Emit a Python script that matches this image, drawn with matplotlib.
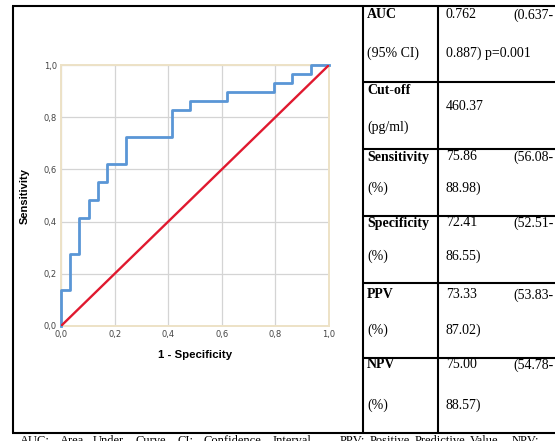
import matplotlib
matplotlib.use("Agg")
import matplotlib.pyplot as plt

# ROC curve (1 - specificity, sensitivity)
fpr = [0.0, 0.0, 0.034, 0.034, 0.069, 0.069, 0.103, 0.103, 0.138, 0.138, 0.172, 0.172,
       0.241, 0.241, 0.414, 0.414, 0.483, 0.483, 0.621, 0.621, 0.793, 0.793, 0.862, 0.862,
       0.931, 0.931, 1.0]
tpr = [0.0, 0.138, 0.138, 0.276, 0.276, 0.414, 0.414, 0.483, 0.483, 0.552, 0.552, 0.621,
       0.621, 0.724, 0.724, 0.828, 0.828, 0.862, 0.862, 0.897, 0.897, 0.931, 0.931, 0.966,
       0.966, 1.0, 1.0]
ticks = [0.0, 0.2, 0.4, 0.6, 0.8, 1.0]
tick_labels = ["0,0", "0,2", "0,4", "0,6", "0,8", "1,0"]

# table
row_names = ["AUC", "Cut-off", "Sensitivity", "Specificity", "PPV", "NPV"]
row_units = ["(95% CI)", "(pg/ml)", "(%)", "(%)", "(%)", "(%)"]
row_values = ["0.762", "460.37", "75.86", "72.41", "73.33", "75.00"]
row_ci_low = ["(0.637-", "", "(56.08-", "(52.51-", "(53.83-", "(54.78-"]
row_ci_high = ["0.887) p=0.001", "", "88.98)", "86.55)", "87.02)", "88.57)"]
caption_words = ["AUC:", "Area", "Under", "Curve,", "CI:", "Confidence", "Interval,",
                 "PPV:", "Positive", "Predictive", "Value,", "NPV:"]
caption_x = [20, 60, 93, 135, 178, 203, 273, 340, 370, 415, 470, 512]

W, H = 555, 441
fig = plt.figure(figsize=(W / 100, H / 100), dpi=100)

# ROC panel
ax = fig.add_axes([61 / W, 1 - 326 / H, 268 / W, 261 / H])
ax.plot(fpr, tpr, color="#5a96d6", lw=2.0, zorder=3, clip_on=False)
ax.plot([0, 1], [0, 1], color="#e0192f", lw=1.7, zorder=4)
ax.set_xlim(0, 1)
ax.set_ylim(0, 1)
ax.set_xticks(ticks)
ax.set_yticks(ticks)
ax.set_xticklabels(tick_labels)
ax.set_yticklabels(tick_labels)
ax.tick_params(length=0, labelsize=6, labelcolor="#444444", pad=3)
ax.grid(True, color="#d4d4d4", lw=0.9)
ax.set_axisbelow(True)
for s in ax.spines.values():
    s.set_color("#ede2c6")
    s.set_linewidth(1.4)
ax.set_xlabel("1 - Specificity", fontsize=8.2, fontweight="bold", family="Liberation Sans",
              labelpad=8)
ax.set_ylabel("Sensitivity", fontsize=8, fontweight="bold", family="Liberation Sans",
              labelpad=10)

# overlay in pixel coordinates for the frame and table
ov = fig.add_axes([0, 0, 1, 1])
ov.set_xlim(0, W)
ov.set_ylim(H, 0)
ov.axis("off")

lk = dict(color="black", lw=1.5, solid_capstyle="butt")
ov.plot([12, W], [6, 6], **lk)
ov.plot([12, W], [433, 433], **lk)
for x in [12.5, 363, 438]:
    ov.plot([x, x], [6, 433], **lk)
for y in [82, 149, 216, 283, 358]:
    ov.plot([363, W], [y, y], **lk)

line1_y = [15, 90, 157, 223, 295, 365]
line2_y = [53, 127, 188, 256, 330, 405]
serif = "Liberation Serif"
fs = 10
for i in range(len(row_names)):
    ov.text(367, line1_y[i], row_names[i], fontsize=fs, family=serif, fontweight="bold",
            va="center", ha="left")
    ov.text(367, line2_y[i], row_units[i], fontsize=fs, family=serif, va="center", ha="left")
    if row_ci_low[i]:
        ov.text(446, line1_y[i], row_values[i], fontsize=fs, family=serif, va="center")
        ov.text(554, line1_y[i], row_ci_low[i], fontsize=fs, family=serif, va="center",
                ha="right")
        ov.text(446, line2_y[i], row_ci_high[i], fontsize=fs, family=serif, va="center")
    else:
        ov.text(446, 107, row_values[i], fontsize=fs, family=serif, va="center")

for w, x in zip(caption_words, caption_x):
    ov.text(x, 435, w, fontsize=9, family=serif, va="top", ha="left")

fig.savefig("out.png", dpi=100)
